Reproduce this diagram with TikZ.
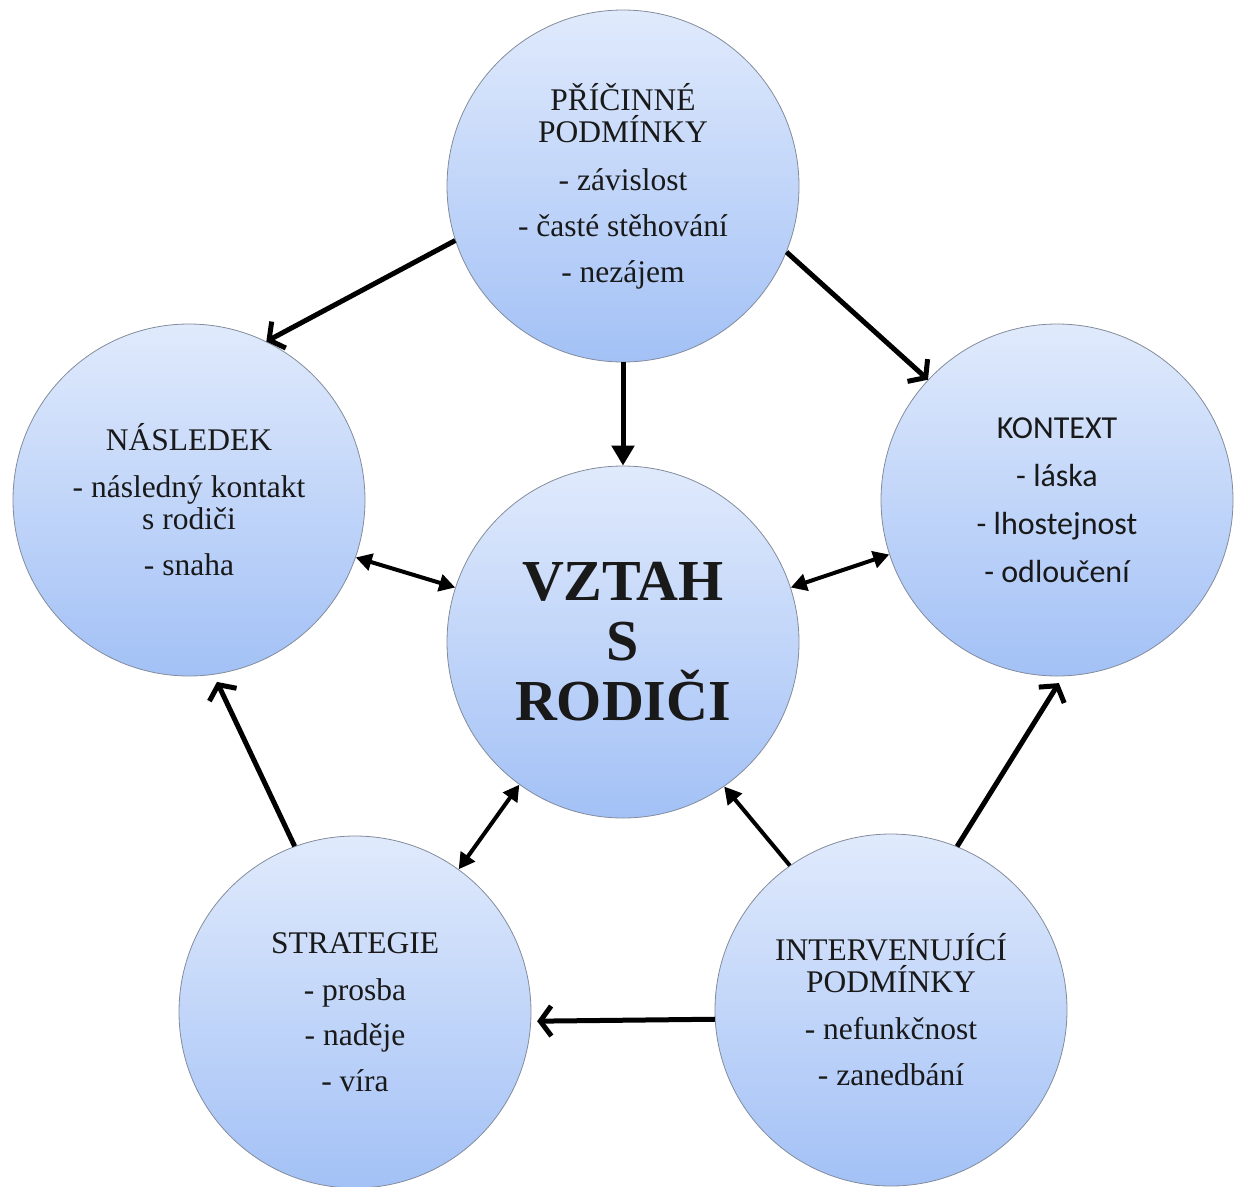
\documentclass[tikz,border=0pt]{standalone}
\usepackage{fontspec}
\setmainfont{Liberation Serif}
\newfontfamily\calib{Carlito}
\usetikzlibrary{arrows.meta}
\definecolor{bubtop}{RGB}{224,234,252}
\definecolor{bubbot}{RGB}{163,193,246}
\definecolor{bubedge}{RGB}{130,140,155}
\tikzset{
  bub/.style={circle, minimum size=352pt, inner sep=0pt, draw=bubedge, line width=0.8pt,
    top color=bubtop, bottom color=bubbot, align=center, text=black!90,
    font=\fontsize{31.5}{32}\selectfont},
  openarr/.style={line width=5pt, -{Straight Barb[length=11pt,width=30pt]}},
  fillarr/.style={line width=5pt, -{Triangle[length=20pt,width=22pt]}},
  thinarr/.style={line width=4pt, -{Triangle[length=17pt,width=18pt]}},
  dblarr/.style={line width=4pt, {Triangle[length=16pt,width=17pt]}-{Triangle[length=16pt,width=17pt]}},
}
\begin{document}
\begin{tikzpicture}[x=1pt,y=-1pt]
\useasboundingbox (0,0) rectangle (1241,1186);
\node[bub] (T) at (623,186) {PŘÍČINNÉ\\PODMÍNKY\\[16pt]- závislost\\[14pt]- časté stěhování\\[14pt]- nezájem};
\node[bub] (L) at (189,500) {NÁSLEDEK\\[15pt]- následný kontakt\\s rodiči\\[14pt]- snaha};
\node[bub, font=\calib\fontsize{32}{48}\selectfont] (R) at (1057,500) {KONTEXT\\- láska\\- lhostejnost\\- odloučení};
\node[bub, font=\bfseries\fontsize{58}{60}\selectfont] (C) at (623,642) {VZTAH\\S\\RODIČI};
\node[bub] (BL) at (355,1012) {STRATEGIE\\[15pt]- prosba\\[13pt]- naděje\\[14pt]- víra};
\node[bub] (BR) at (891,1010) {INTERVENUJÍCÍ\\PODMÍNKY\\[15pt]- nefunkčnost\\[14pt]- zanedbání};

\draw[openarr] (T.198.5) -- (L.64);
\draw[openarr] (T.338.5) -- (R.137);
\draw[fillarr] (T.270) -- (C.90);
\draw[dblarr] (L.341.7) -- (C.162.3);
\draw[dblarr] (C.18.1) -- (R.198.3);
\draw[dblarr] (C.234.3) -- (BL.54.4);
\draw[thinarr] (BR.125.6) -- (C.305.5);
\draw[openarr, shorten >=8pt] (BL.110.6) -- (L.278.3);
\draw[openarr, shorten >=8pt] (BR.68.2) -- (R.272);
\draw[openarr, shorten >=6pt] (BR.183.5) -- (BL.357.2);
\end{tikzpicture}
\end{document}
